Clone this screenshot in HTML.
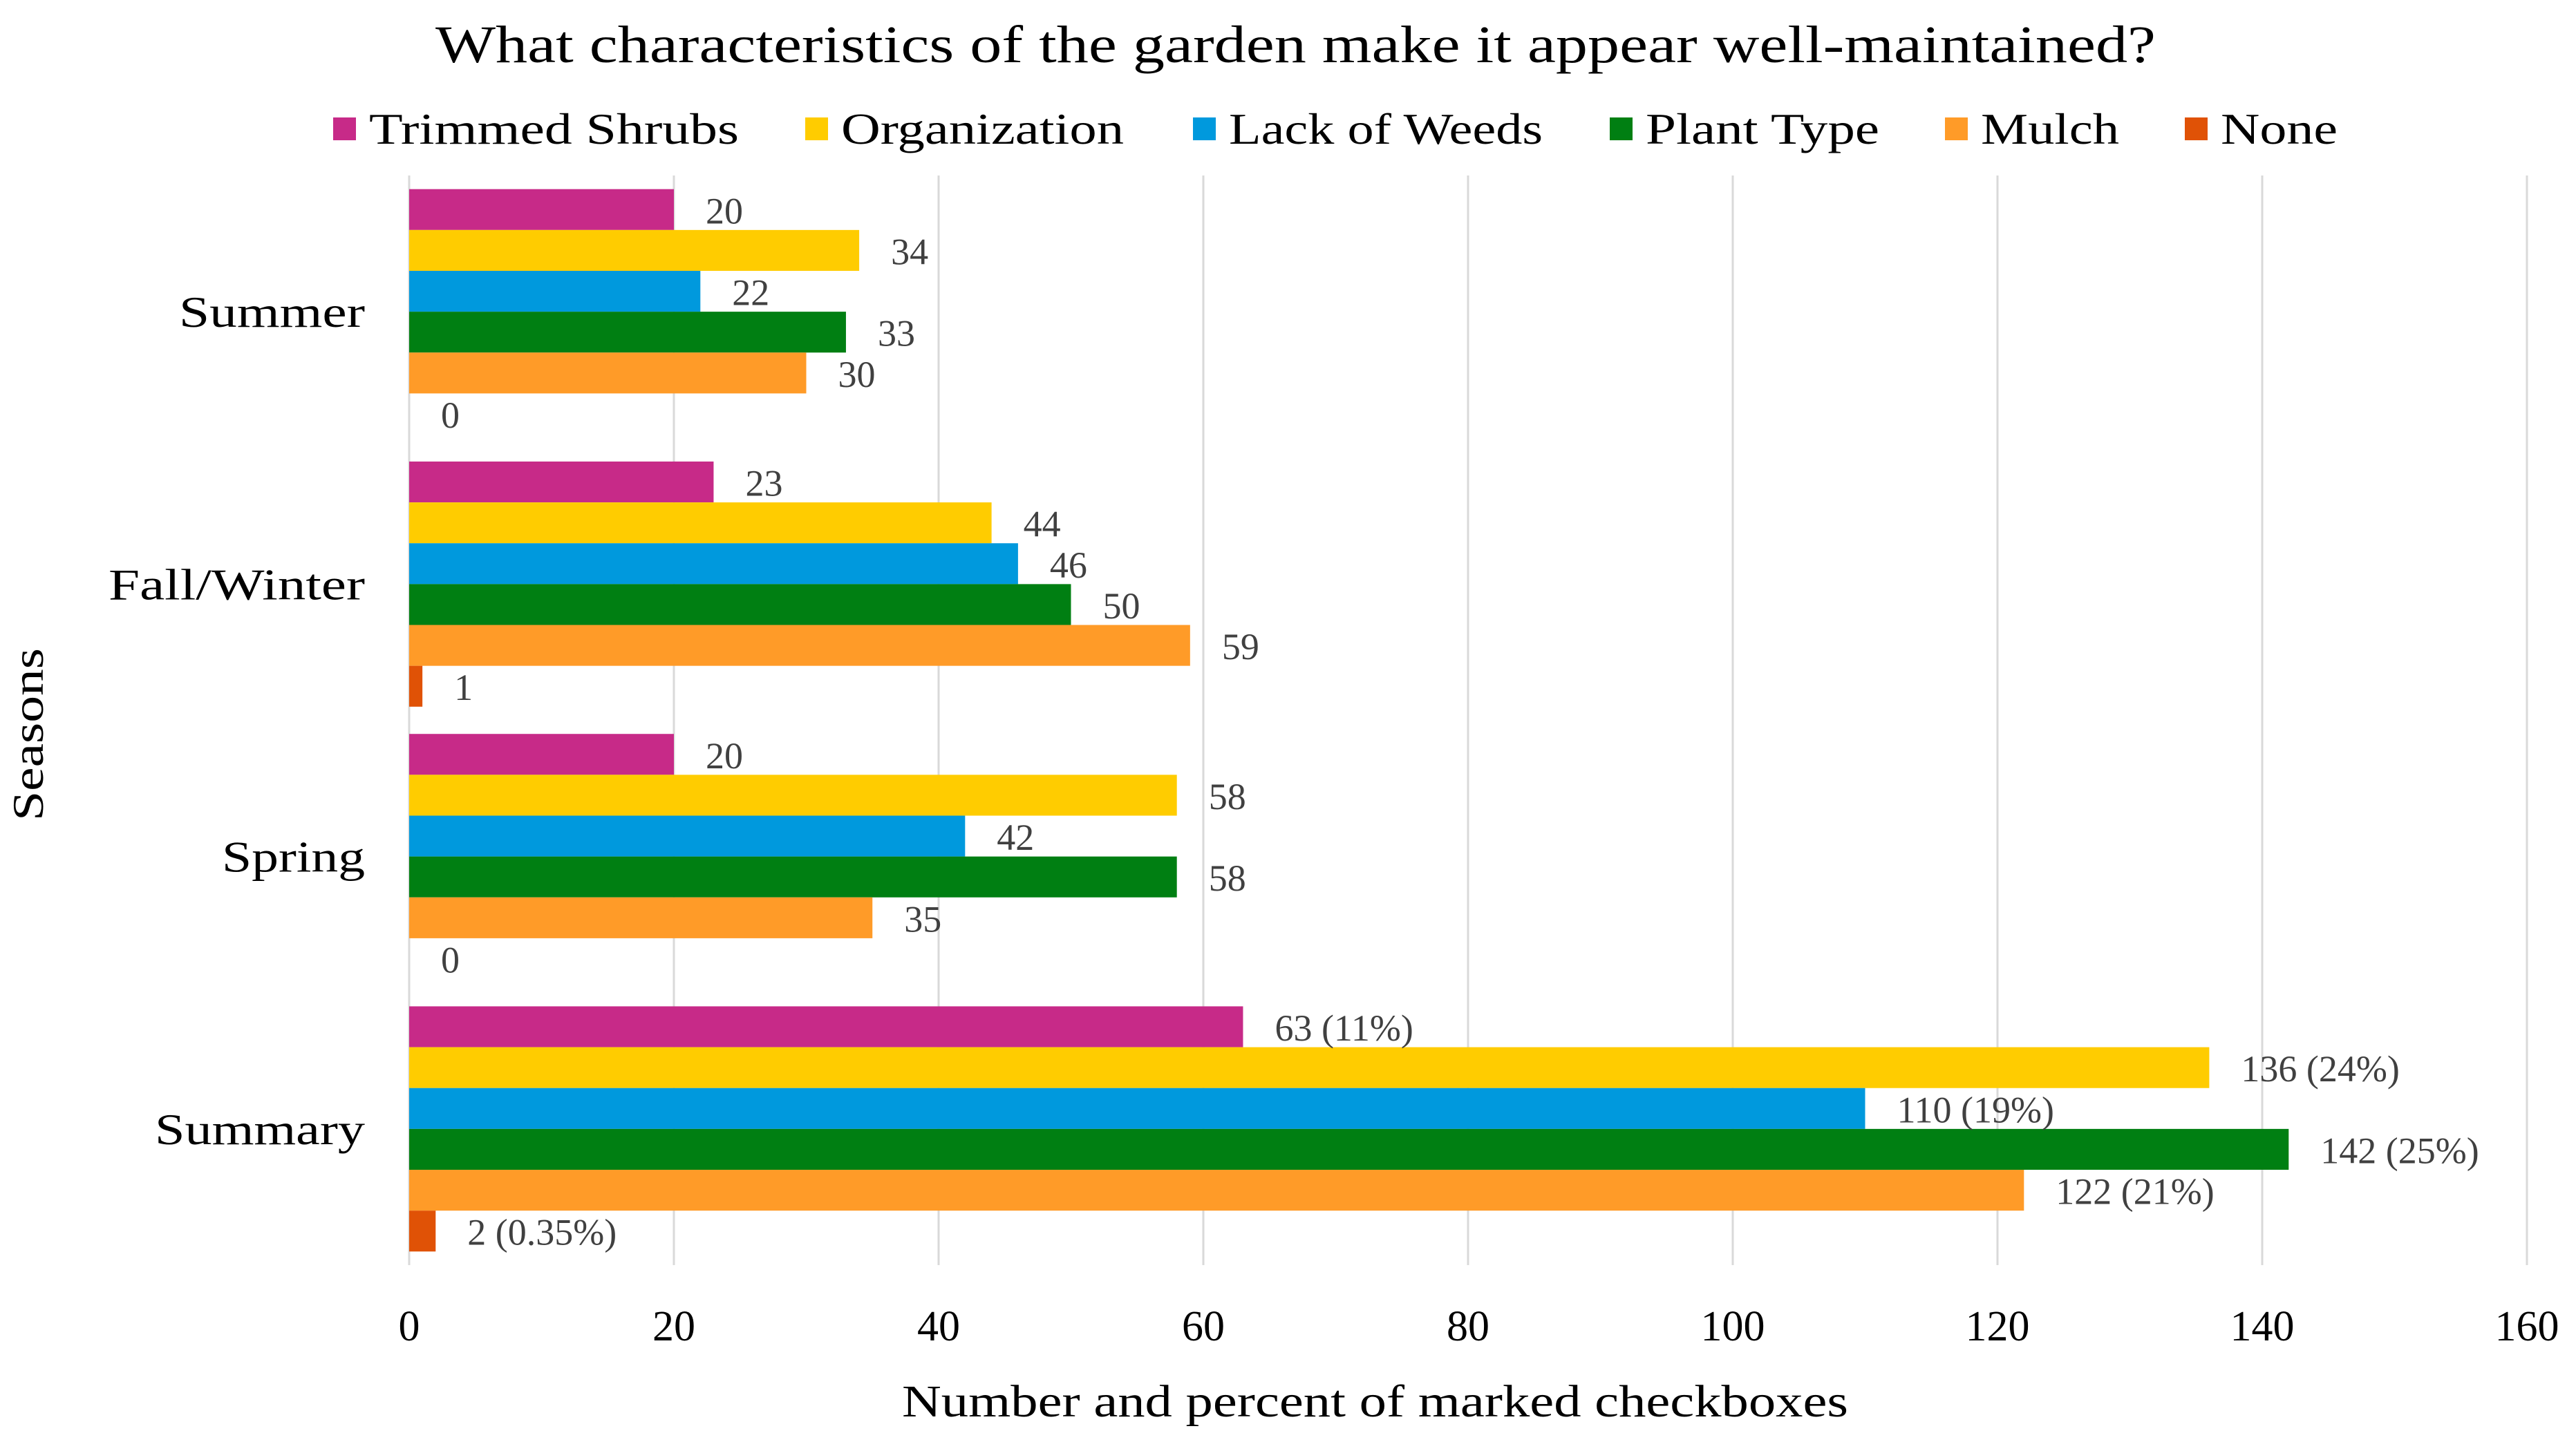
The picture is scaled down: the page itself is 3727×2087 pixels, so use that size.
<!DOCTYPE html>
<html><head><meta charset="utf-8"><style>
html,body{margin:0;padding:0;background:#fff;}
svg{display:block;font-family:"Liberation Serif",serif;}
</style></head><body>
<svg id="chart" width="3727" height="2087" viewBox="0 0 3727 2087" xmlns="http://www.w3.org/2000/svg">
<text x="630" y="90" font-size="76" textLength="2489" lengthAdjust="spacingAndGlyphs" fill="#000">What characteristics of the garden make it appear well-maintained?</text>
<g id="legend"></g>
<g id="grid"></g>
<g id="bars"></g>
<g id="labels"></g>
<g id="xticks"></g>
<g id="yticks"></g>
<text x="1305" y="2050" font-size="66" textLength="1369" lengthAdjust="spacingAndGlyphs" fill="#000">Number and percent of marked checkboxes</text>
<text transform="translate(62,1063) rotate(-90)" font-size="64" text-anchor="middle" textLength="250" lengthAdjust="spacingAndGlyphs" fill="#000">Seasons</text>
</svg>
<script>
const categories = ["Summer","Fall/Winter","Spring","Summary"];
const seriesNames = ["Trimmed Shrubs","Organization","Lack of Weeds","Plant Type","Mulch","None"];
const trimmedShrubs = [20,23,20,63];
const organization = [34,44,58,136];
const lackOfWeeds = [22,46,42,110];
const plantType = [33,50,58,142];
const mulch = [30,59,35,122];
const none = [0,1,0,2];
const summaryPercents = ["11%","24%","19%","25%","21%","0.35%"];
const xTicks = [0,20,40,60,80,100,120,140,160];

const series = [trimmedShrubs, organization, lackOfWeeds, plantType, mulch, none];
const colors = ["#c72a88","#ffcc00","#0099dd","#007f12","#ff9b28","#e05206"];
const NS = "http://www.w3.org/2000/svg";
const x0 = 592, x1 = 3656, yTop = 254, yBot = 1831;
const xMax = 160;
const xs = v => x0 + (v / xMax) * (x1 - x0);
const band = (yBot - yTop) / categories.length;
const barH = band * 0.9 / series.length;
const yBand = i => yTop + i * band + band * 0.05;

function mk(tag, attrs, parent){
  const e = document.createElementNS(NS, tag);
  for (const k in attrs) e.setAttribute(k, attrs[k]);
  parent.appendChild(e);
  return e;
}
const grid = document.getElementById('grid');
const bars = document.getElementById('bars');
const labels = document.getElementById('labels');
const xt = document.getElementById('xticks');
const yt = document.getElementById('yticks');
const legend = document.getElementById('legend');

xTicks.forEach(t => {
  const l = mk('line', {x1: xs(t), x2: xs(t), y1: yTop, y2: yBot, stroke: "#d9d9d9", "stroke-width": 3}, grid);
  
  
  const tx = mk('text', {x: xs(t), y: 1940, "font-size": 62, "text-anchor": "middle", fill: "#000"}, xt);
  tx.textContent = t;
  
  
});

const catW = [269, 371, 207, 304];
categories.forEach((c, i) => {
  const ct = mk('text', {x: 528, y: yTop + i * band + band / 2 + 22, "font-size": 64, "text-anchor": "end", textLength: catW[i], lengthAdjust: "spacingAndGlyphs", fill: "#000"}, yt);
  ct.textContent = c;
  
  
  series.forEach((s, j) => {
    const v = s[i];
    const y = yBand(i) + j * barH;
    const r = mk('rect', {x: x0, y: y, width: Math.max(0, xs(v) - x0), height: barH, fill: colors[j]}, bars);
    
    
    const lt = mk('text', {x: xs(v) + 46, y: y + barH / 2 + 20, "font-size": 54, fill: "#404040"}, labels);
    lt.textContent = (i === categories.length - 1) ? (v + " (" + summaryPercents[j] + ")") : String(v);
    
    
  });
});

const legX = [482, 1165, 1726, 2329, 2814, 3161];
const legW = [535, 409, 454, 338, 200, 169];
seriesNames.forEach((n, j) => {
  const g = mk('g', {}, legend);
  
  
  mk('rect', {x: legX[j], y: 170, width: 33, height: 33, fill: colors[j]}, g);
  const t = mk('text', {x: legX[j] + 52, y: 208, "font-size": 64, textLength: legW[j], lengthAdjust: "spacingAndGlyphs", fill: "#000"}, g);
  t.textContent = n;
});
</script>
</body></html>
